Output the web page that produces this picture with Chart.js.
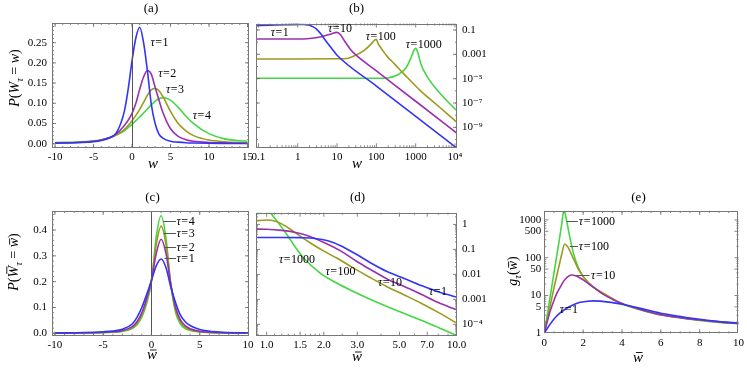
<!DOCTYPE html>
<html>
<head>
<meta charset="utf-8">
<script src="https://cdn.jsdelivr.net/npm/chart.js@4.4.1/dist/chart.umd.min.js"></script>
<style>
  html, body { margin: 0; padding: 0; background: #fff; }
  #wrap { position: relative; width: 747px; height: 380px; }
  #wrap canvas { position: absolute; left: 0; top: 0; }
</style>
</head>
<body>
<div id="wrap">
  <canvas id="pa" width="747" height="380"></canvas>
  <canvas id="pb" width="747" height="380"></canvas>
  <canvas id="pc" width="747" height="380"></canvas>
  <canvas id="pd" width="747" height="380"></canvas>
  <canvas id="pe" width="747" height="380"></canvas>
</div>
<script>
// ---- (a) P(W_tau = w), tau = 1..4
const aW = [-10, -7, -5, -4, -3, -2, -1, -0.5, 0, 0.5, 1, 1.5, 2, 2.5, 3, 3.5, 4, 5, 6, 7, 8, 10, 12, 15];
const aTau1 = [0.0015, 0.003, 0.005, 0.008, 0.014, 0.028, 0.08, 0.135, 0.205, 0.262, 0.288, 0.25, 0.18, 0.098, 0.05, 0.024, 0.014, 0.006, 0.004, 0.0025, 0.0018, 0.001, 0.0007, 0.0004];
const aTau2 = [0.002, 0.003, 0.006, 0.009, 0.014, 0.025, 0.045, 0.058, 0.075, 0.1, 0.135, 0.165, 0.181, 0.172, 0.14, 0.108, 0.078, 0.037, 0.018, 0.01, 0.006, 0.003, 0.002, 0.001];
const aTau3 = [0.002, 0.003, 0.006, 0.009, 0.014, 0.022, 0.035, 0.045, 0.057, 0.07, 0.085, 0.102, 0.12, 0.133, 0.137, 0.131, 0.117, 0.08, 0.05, 0.032, 0.02, 0.009, 0.005, 0.002];
const aTau4 = [0.003, 0.004, 0.007, 0.01, 0.015, 0.022, 0.032, 0.04, 0.048, 0.057, 0.066, 0.076, 0.086, 0.096, 0.105, 0.111, 0.114, 0.108, 0.09, 0.068, 0.05, 0.025, 0.012, 0.006];
const aXTicks = [-10, -5, 0, 5, 10, 15];
const aXLabels = ['-10', '-5', '0', '5', '10', '15'];
const aYTicks = [0, 0.05, 0.1, 0.15, 0.2, 0.25];
const aYLabels = ['0.00', '0.05', '0.10', '0.15', '0.20', '0.25'];

// ---- (b) same on log-log, tau = 1, 10, 100, 1000
const bW1 = [0.087, 0.2, 0.5, 1, 1.5, 2, 2.5, 3, 4, 5, 7, 10, 100, 1000, 11300];
const bTau1 = [0.23, 0.25, 0.275, 0.288, 0.28, 0.25, 0.18, 0.12, 0.042, 0.015, 0.0036, 8.5e-4, 2.5e-6, 7.9e-9, 1.9e-11];
const bW10 = [0.087, 1, 2, 4, 7, 10, 12.4, 15, 22, 30, 100, 1000, 11300];
const bTau10 = [0.018, 0.018, 0.02, 0.028, 0.047, 0.064, 0.039, 0.015, 2.5e-3, 9e-4, 4.4e-5, 1.4e-7, 3.2e-10];
const bW100 = [0.087, 1, 10, 18, 27, 48, 72, 90, 100, 110, 142, 190, 280, 500, 1330, 3500, 11300];
const bTau100 = [4.2e-4, 4.2e-4, 4.3e-4, 4.6e-4, 7.2e-4, 2.0e-3, 6.6e-3, 0.015, 0.017, 7.9e-3, 2.3e-3, 6.5e-4, 1.8e-4, 2.5e-5, 1.0e-6, 6.9e-8, 2.6e-9];
const bW1000 = [0.087, 10, 100, 190, 343, 558, 750, 912, 1000, 1150, 1340, 1980, 4300, 11300];
const bTau1000 = [1.07e-5, 1.07e-5, 1.08e-5, 1.15e-5, 2.0e-5, 7.1e-5, 4.7e-4, 2.3e-3, 3.1e-3, 1.2e-3, 1.8e-4, 1.4e-5, 5.5e-7, 2.2e-8];
const bXTicks = [0.1, 1, 10, 100, 1000, 10000];
const bXLabels = ['0.1', '1', '10', '100', '1000', '10\u2074'];
const bYTicks = [0.1, 1e-3, 1e-5, 1e-7, 1e-9];
const bYLabels = ['0.1', '0.001', '10\u207B\u2075', '10\u207B\u2077', '10\u207B\u2079'];

// ---- (c) P(W̄_tau = w̄), tau = 1..4
const cW = [-10, -7, -5, -4, -3, -2, -1.5, -1, -0.5, 0, 0.5, 1, 1.5, 2, 2.5, 3, 3.5, 4, 5, 7, 10];
const cTau1 = [0.001, 0.003, 0.006, 0.009, 0.016, 0.036, 0.062, 0.1, 0.15, 0.205, 0.262, 0.288, 0.255, 0.18, 0.118, 0.07, 0.045, 0.03, 0.015, 0.005, 0.0015];
const cTau2 = [0.001, 0.002, 0.004, 0.006, 0.011, 0.026, 0.045, 0.08, 0.135, 0.205, 0.31, 0.364, 0.31, 0.19, 0.1, 0.052, 0.03, 0.018, 0.008, 0.003, 0.001];
const cTau3 = [0.0008, 0.0015, 0.003, 0.005, 0.009, 0.021, 0.038, 0.07, 0.125, 0.205, 0.345, 0.415, 0.345, 0.19, 0.09, 0.043, 0.023, 0.014, 0.006, 0.002, 0.0008];
const cTau4 = [0.0006, 0.0012, 0.0025, 0.004, 0.007, 0.018, 0.033, 0.062, 0.115, 0.2, 0.375, 0.455, 0.37, 0.19, 0.08, 0.036, 0.018, 0.011, 0.005, 0.0015, 0.0006];
const cXTicks = [-10, -5, 0, 5, 10];
const cXLabels = ['-10', '-5', '0', '5', '10'];
const cYTicks = [0, 0.1, 0.2, 0.3, 0.4];
const cYLabels = ['0.0', '0.1', '0.2', '0.3', '0.4'];

// ---- (d) same on log-log, tau = 1, 10, 100, 1000
const dW1 = [0.85, 1.2, 1.5, 1.8, 2.1, 2.45, 2.9, 3.5, 4.3, 5.3, 6.5, 8, 10.5];
const dTau1 = [0.3, 0.3, 0.295, 0.275, 0.22, 0.14, 0.07, 0.03, 0.013, 0.0068, 0.0036, 0.002, 0.0011];
const dW10 = [0.85, 1, 1.2, 1.4, 1.6, 1.8, 2, 2.5, 3, 3.5, 4.4, 5.3, 6.5, 8, 10.5];
const dTau10 = [0.65, 0.64, 0.58, 0.49, 0.38, 0.27, 0.19, 0.08, 0.032, 0.016, 0.006, 0.0033, 0.0016, 7.5e-4, 3.3e-4];
const dW100 = [0.85, 1, 1.1, 1.2, 1.35, 1.5, 1.7, 2, 2.35, 2.9, 3.5, 4.3, 5.3, 6.5, 8, 10.5];
const dTau100 = [1.36, 1.5, 1.38, 1.05, 0.6, 0.34, 0.18, 0.085, 0.044, 0.017, 0.0075, 0.0032, 0.0015, 7e-4, 3e-4, 9e-5];
const dW1000 = [0.85, 0.92, 0.97, 1.03, 1.09, 1.16, 1.23, 1.31, 1.39, 1.57, 1.92, 2.35, 2.88, 3.5, 4.32, 5.3, 6.46, 8, 10.5];
const dTau1000 = [2.2, 3.0, 3.4, 3.2, 2.0, 1.1, 0.59, 0.3, 0.15, 0.044, 0.011, 4.4e-3, 2.0e-3, 1.0e-3, 5.1e-4, 2.7e-4, 1.5e-4, 7.5e-5, 3e-5];
const dXTicks = [1, 1.5, 2, 3, 5, 7, 10];
const dXLabels = ['1.0', '1.5', '2.0', '3.0', '5.0', '7.0', '10.0'];
const dYTicks = [1, 0.1, 0.01, 0.001, 1e-4];
const dYLabels = ['1', '0.1', '0.01', '0.001', '10\u207B\u2074'];

// ---- (e) g_tau(w̄), tau = 1, 10, 100, 1000
const eW1 = [0, 0.25, 0.5, 0.8, 1.15, 1.5, 1.85, 2.2, 2.5, 2.85, 3.2, 4, 5, 6, 7, 8, 9, 10];
const eTau1 = [1, 1.6, 2.4, 3.4, 4.6, 5.7, 6.6, 7.0, 7.2, 7.1, 6.8, 5.9, 4.5, 3.4, 2.8, 2.35, 2.05, 1.86];
const eW10 = [0, 0.15, 0.3, 0.5, 0.65, 0.8, 1, 1.2, 1.4, 1.65, 2, 2.5, 3, 3.5, 4, 5, 6, 7, 8, 9, 10];
const eTau10 = [1, 2.0, 3.8, 7.5, 11.5, 16, 24, 31, 35, 33, 26, 17, 11, 8, 6.1, 4.2, 3.1, 2.6, 2.25, 2.0, 1.82];
const eW100 = [0, 0.25, 0.5, 0.75, 0.9, 1.05, 1.2, 1.5, 1.8, 2.3, 3.2, 4, 5, 6, 7, 8, 9, 10];
const eTau100 = [1, 4, 16, 58, 125, 230, 196, 95, 45, 21, 10.3, 6.1, 4.2, 3.1, 2.6, 2.25, 2.0, 1.82];
const eW1000 = [0, 0.25, 0.5, 0.75, 0.9, 1.0, 1.07, 1.14, 1.31, 1.48, 1.73, 2.0, 2.5, 3.2, 4, 5, 6, 7, 8, 9, 10];
const eTau1000 = [1, 6.3, 40, 250, 800, 1700, 1500, 1000, 360, 145, 58, 32, 17, 10, 6.0, 4.1, 3.05, 2.55, 2.2, 1.95, 1.8];
const eXTicks = [0, 2, 4, 6, 8, 10];
const eXLabels = ['0', '2', '4', '6', '8', '10'];
const eYTicks = [1, 5, 10, 50, 100, 500, 1000];
const eYLabels = ['1', '5', '10', '50', '100', '500', '1000'];

const SERIF = '"Liberation Serif", "Times New Roman", "DejaVu Serif", serif';
const BLUE = '#3434f4', PURPLE = '#9b30ad', OLIVE = '#9b9a1f', GREEN = '#44d644';
const XH = 22, YW = 42;   // room reserved for tick labels
Chart.defaults.font.family = SERIF;

function pts(xs, ys) { return xs.map((x, i) => ({ x, y: ys[i] })); }
function curve(xs, ys, color) {
  return { data: pts(xs, ys), borderColor: color, borderWidth: 1.6, pointRadius: 0,
           fill: false, cubicInterpolationMode: 'monotone' };
}
function steps(a, b, s) { const o = []; for (let v = a; v <= b + 1e-9; v += s) o.push(+v.toFixed(6)); return o; }
function decades(lo, hi, mults) { const o = []; for (let e = lo; e <= hi; e++) mults.forEach(k => o.push(k * Math.pow(10, e))); return o; }

function axis(type, pos, min, max, values, labels, pad) {
  return {
    type, position: pos, min, max,
    grid: { display: false, drawTicks: false }, border: { display: false },
    afterFit: s => { if (s.isHorizontal()) s.height = XH; else s.width = YW; },
    afterBuildTicks: s => { s.ticks = values.map(v => ({ value: v })); },
    ticks: { autoSkip: false, maxRotation: 0, padding: pad, color: '#000',
             font: { family: SERIF, size: 11 }, callback: (v, i) => labels[i] }
  };
}

// rich text: parts {t, it, sub, bar, gap}
function fontStr(size, it) { return (it ? 'italic ' : '') + size + 'px ' + SERIF; }
function drawRich(ctx, parts, x, y, size, align) {
  let total = 0;
  parts.forEach(p => { ctx.font = fontStr(p.sub ? size * 0.72 : size, p.it); total += (p.gap || 0) + ctx.measureText(p.t).width; });
  let cx = align === 'center' ? x - total / 2 : x;
  ctx.textAlign = 'left'; ctx.textBaseline = 'alphabetic'; ctx.fillStyle = '#000';
  parts.forEach(p => {
    const s = p.sub ? size * 0.72 : size;
    ctx.font = fontStr(s, p.it);
    cx += p.gap || 0;
    const w = ctx.measureText(p.t).width;
    const yy = y + (p.sub ? size * 0.28 : 0);
    ctx.fillText(p.t, cx, yy);
    if (p.bar) {
      const by = yy - s * (p.bar === 'W' ? 0.8 : 0.6);
      ctx.beginPath(); ctx.lineWidth = 0.9; ctx.strokeStyle = '#000';
      ctx.moveTo(cx + w * 0.3, by); ctx.lineTo(cx + w * 0.95, by); ctx.stroke();
    }
    cx += w;
  });
}
const tauText = v => [{ t: '\u03C4', it: true }, { t: '=', gap: 0.5 }, { t: v, gap: 0.5 }];

function deco(spec) {
  return {
    id: 'deco',
    afterDatasetsDraw(chart) {
      const ctx = chart.ctx, a = chart.chartArea, sx = chart.scales.x, sy = chart.scales.y;
      ctx.save();
      // zero axis
      if (spec.zero) {
        const p = Math.round(sx.getPixelForValue(0)) + 0.5;
        ctx.strokeStyle = '#555'; ctx.lineWidth = 1;
        ctx.beginPath(); ctx.moveTo(p, a.top); ctx.lineTo(p, a.bottom); ctx.stroke();
      }
      // inward ticks on all four sides
      ctx.strokeStyle = '#666'; ctx.lineWidth = 0.8;
      ctx.beginPath();
      const tx = (vals, len) => vals.forEach(v => {
        const p = sx.getPixelForValue(v);
        if (p < a.left + 1 || p > a.right - 1) return;
        ctx.moveTo(p, a.bottom); ctx.lineTo(p, a.bottom - len);
        ctx.moveTo(p, a.top); ctx.lineTo(p, a.top + len);
      });
      const ty = (vals, len) => vals.forEach(v => {
        const p = sy.getPixelForValue(v);
        if (p < a.top + 1 || p > a.bottom - 1) return;
        ctx.moveTo(a.left, p); ctx.lineTo(a.left + len, p);
        ctx.moveTo(a.right, p); ctx.lineTo(a.right - len, p);
      });
      tx(spec.xMajor, 4); tx(spec.xMinor, 2); ty(spec.yMajor, 4); ty(spec.yMinor, 2);
      ctx.stroke();
      // frame
      ctx.strokeStyle = '#777'; ctx.lineWidth = 1;
      ctx.strokeRect(Math.round(a.left) + 0.5, Math.round(a.top) + 0.5, Math.round(a.right - a.left) - 1, Math.round(a.bottom - a.top) - 1);
      // leader lines
      ctx.strokeStyle = '#555'; ctx.lineWidth = 1;
      (spec.leaders || []).forEach(l => {
        const y = Math.round(sy.getPixelForValue(l.y)) + 0.5;
        ctx.beginPath(); ctx.moveTo(sx.getPixelForValue(l.x1), y); ctx.lineTo(sx.getPixelForValue(l.x2), y); ctx.stroke();
      });
      // curve labels
      (spec.labels || []).forEach(l => {
        drawRich(ctx, tauText(l.t), sx.getPixelForValue(l.x), sy.getPixelForValue(l.y) + 4, 12, 'left');
      });
      // titles
      ctx.font = '13px ' + SERIF; ctx.fillStyle = '#000'; ctx.textAlign = 'center'; ctx.textBaseline = 'middle';
      ctx.fillText(spec.title[0], spec.title[1], spec.title[2]);
      drawRich(ctx, spec.xTitle[0], spec.xTitle[1], spec.xTitle[2], 15, 'center');
      if (spec.yTitle) {
        ctx.save(); ctx.translate(spec.yTitle[1], spec.yTitle[2]); ctx.rotate(-Math.PI / 2);
        drawRich(ctx, spec.yTitle[0], 0, 5, 14, 'center');
        ctx.restore();
      }
      ctx.restore();
    }
  };
}

// box = chart area [left, top, right, bottom] in page pixels
function panel(id, box, xAxis, yAxis, datasets, spec) {
  const yLeft = yAxis.position === 'left';
  new Chart(document.getElementById(id), {
    type: 'line',
    data: { datasets },
    options: {
      responsive: false, animation: false, devicePixelRatio: 1,
      layout: { padding: { left: box[0] - (yLeft ? YW : 0), top: box[1],
                           right: 747 - box[2] - (yLeft ? 0 : YW), bottom: 380 - box[3] - XH } },
      plugins: { legend: { display: false }, tooltip: { enabled: false } },
      scales: { x: xAxis, y: yAxis }
    },
    plugins: [deco(spec)]
  });
}

const wIt = [{ t: 'w', it: true }];
const wBar = [{ t: 'w', it: true, bar: 'w' }];

panel('pa', [52, 23, 249, 148],
  axis('linear', 'bottom', -10.4, 15.2, aXTicks, aXLabels, 3),
  axis('linear', 'left', -0.0106, 0.2986, aYTicks, aYLabels, 5),
  [curve(aW, aTau1, BLUE), curve(aW, aTau2, PURPLE), curve(aW, aTau3, OLIVE), curve(aW, aTau4, GREEN)],
  { zero: true, xMajor: aXTicks, xMinor: steps(-10, 15, 1), yMajor: aYTicks, yMinor: steps(0, 0.29, 0.01),
    labels: [{ t: '1', x: 2.4, y: 0.2525 }, { t: '2', x: 3.4, y: 0.176 }, { t: '3', x: 4.4, y: 0.135 }, { t: '4', x: 7.9, y: 0.0716 }],
    title: ['(a)', 151, 9], xTitle: [wIt, 153, 167.5],
    yTitle: [[{ t: 'P', it: true }, { t: '(' }, { t: 'W', it: true }, { t: '\u03C4', it: true, sub: true }, { t: ' = ' }, { t: 'w', it: true }, { t: ')' }], 14, 78] });

panel('pb', [256, 23.5, 457, 147.3],
  axis('logarithmic', 'bottom', 0.0869, 11240, bXTicks, bXLabels, 3),
  axis('logarithmic', 'right', 2.3e-11, 0.342, bYTicks, bYLabels, 5),
  [curve(bW1, bTau1, BLUE), curve(bW10, bTau10, PURPLE), curve(bW100, bTau100, OLIVE), curve(bW1000, bTau1000, GREEN)],
  { xMajor: bXTicks, xMinor: decades(-2, 4, [2, 3, 4, 5, 6, 7, 8, 9]), yMajor: bYTicks, yMinor: decades(-11, 0, [1]),
    labels: [{ t: '1', x: 0.206, y: 0.072 }, { t: '10', x: 5.9, y: 0.138 }, { t: '100', x: 53.8, y: 0.032 }, { t: '1000', x: 558, y: 7.1e-3 }],
    title: ['(b)', 356.5, 9], xTitle: [wIt, 357, 168] });

panel('pc', [52, 211, 249, 335.7],
  axis('linear', 'bottom', -10.3, 10.1, cXTicks, cXLabels, 3),
  axis('linear', 'left', -0.0093, 0.4736, cYTicks, cYLabels, 5),
  [curve(cW, cTau1, BLUE), curve(cW, cTau2, PURPLE), curve(cW, cTau3, OLIVE), curve(cW, cTau4, GREEN)],
  { zero: true, xMajor: cXTicks, xMinor: steps(-10, 10, 1), yMajor: cYTicks, yMinor: steps(0, 0.46, 0.02),
    leaders: [{ x1: 1.22, x2: 2.55, y: 0.436 }, { x1: 1.25, x2: 2.55, y: 0.388 }, { x1: 1.3, x2: 2.55, y: 0.336 }, { x1: 1.35, x2: 2.55, y: 0.291 }],
    labels: [{ t: '4', x: 2.6, y: 0.436 }, { t: '3', x: 2.6, y: 0.388 }, { t: '2', x: 2.6, y: 0.336 }, { t: '1', x: 2.6, y: 0.291 }],
    title: ['(c)', 152.5, 197.5], xTitle: [wBar, 152, 359],
    yTitle: [[{ t: 'P', it: true }, { t: '(' }, { t: 'W', it: true, bar: 'W' }, { t: '\u03C4', it: true, sub: true }, { t: ' = ' }, { t: 'w', it: true, bar: 'w' }, { t: ')' }], 13, 262] });

panel('pd', [256, 212.7, 457, 335.7],
  axis('logarithmic', 'bottom', 0.879, 10.04, dXTicks, dXLabels, 3),
  axis('logarithmic', 'right', 3.5e-5, 2.95, dYTicks, dYLabels, 5),
  [curve(dW1, dTau1, BLUE), curve(dW10, dTau10, PURPLE), curve(dW100, dTau100, OLIVE), curve(dW1000, dTau1000, GREEN)],
  { xMajor: dXTicks, xMinor: [0.9, 1.1, 1.2, 1.3, 1.4, 1.6, 1.7, 1.8, 1.9, 2.5, 4, 6, 8, 9], yMajor: dYTicks,
    yMinor: decades(-5, 0, [2, 3, 4, 5, 6, 7, 8, 9]),
    labels: [{ t: '1000', x: 1.16, y: 0.041 }, { t: '100', x: 2.04, y: 0.0136 }, { t: '10', x: 3.85, y: 5.0e-3 }, { t: '1', x: 7.15, y: 2.1e-3 }],
    title: ['(d)', 357.5, 197.5], xTitle: [wBar, 357, 361] });

panel('pe', [544.3, 211, 740.7, 333.3],
  axis('linear', 'bottom', 0, 10, eXTicks, eXLabels, 3),
  axis('logarithmic', 'left', 1, 1720, eYTicks, eYLabels, 3),
  [curve(eW1, eTau1, BLUE), curve(eW10, eTau10, PURPLE), curve(eW100, eTau100, OLIVE), curve(eW1000, eTau1000, GREEN)],
  { xMajor: eXTicks, xMinor: steps(0, 10, 0.5), yMajor: eYTicks,
    yMinor: [2, 3, 4, 6, 7, 8, 9, 20, 30, 40, 60, 70, 80, 90, 200, 300, 400, 600, 700, 800, 900],
    leaders: [{ x1: 1.14, x2: 1.73, y: 950 }, { x1: 1.31, x2: 1.73, y: 208 }, { x1: 1.65, x2: 2.33, y: 35 }],
    labels: [{ t: '1000', x: 1.78, y: 950 }, { t: '100', x: 1.78, y: 208 }, { t: '10', x: 2.41, y: 35 }, { t: '1', x: 0.8, y: 4.4 }],
    title: ['(e)', 638.5, 197.5], xTitle: [wBar, 638, 361.5],
    yTitle: [[{ t: 'g', it: true }, { t: '\u03C4', it: true, sub: true }, { t: '(' }, { t: 'w', it: true, bar: 'w' }, { t: ')' }], 512, 271] });
</script>
</body>
</html>
